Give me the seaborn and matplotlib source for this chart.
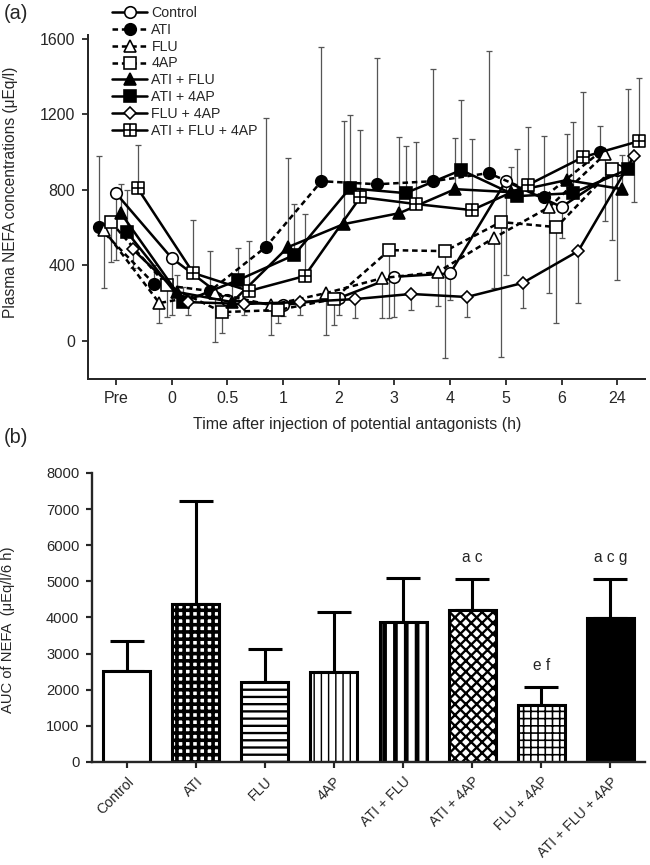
import numpy as np
import pandas as pd
import matplotlib
matplotlib.use('Agg')
import matplotlib.pyplot as plt
from matplotlib.path import Path
import seaborn as sns

# time points after injection (x categories of panel a)
times = ['Pre', '0', '0.5', '1', '2', '3', '4', '5', '6', '24']

groups = ['Control', 'ATI', 'FLU', '4AP', 'ATI + FLU', 'ATI + 4AP',
          'FLU + 4AP', 'ATI + FLU + 4AP']

# plasma NEFA means (uEq/l)
control = [783, 440, 217, 190, 227, 340, 358, 846, 710, 905]
ati = [603, 302, 265, 497, 846, 830, 846, 889, 762, 1000]
flu = [590, 201, 254, 190, 254, 333, 365, 545, 709, 989]
fourap = [630, 296, 153, 164, 222, 481, 476, 630, 603, 910]
ati_flu = [677, 260, 206, 497, 619, 677, 804, 788, 852, 804]
ati_4ap = [577, 206, 323, 455, 809, 783, 905, 767, 783, 910]
flu_4ap = [487, 206, 196, 206, 222, 249, 233, 307, 476, 979]
ati_flu_4ap = [809, 360, 265, 344, 762, 725, 693, 825, 974, 1058]

# SD (only one side is drawn in the figure)
control_sd = [355, 302, 80, 60, 89, 213, 141, 497, 165, 582]
ati_sd = [376, 100, 211, 683, 710, 667, 593, 645, 323, 138]
flu_sd = [310, 106, 259, 158, 222, 211, 180, 265, 455, 354]
fourap_sd = [212, 169, 111, 69, 137, 360, 566, 715, 508, 376]
ati_flu_sd = [154, 90, 100, 471, 545, 402, 270, 133, 243, 180]
ati_4ap_sd = [222, 80, 169, 270, 387, 249, 370, 249, 376, 423]
flu_4ap_sd = [101, 68, 60, 68, 100, 85, 106, 132, 275, 244]
ati_flu_4ap_sd = [228, 280, 264, 328, 354, 328, 376, 307, 343, 334]

# AUC of NEFA (uEq/l/6 h)
auc_mean = [2520, 4377, 2216, 2493, 3878, 4210, 1579, 3989]
auc_sd = [830, 2853, 914, 1662, 1219, 859, 499, 1080]
auc_letters = ['', '', '', '', '', 'a c', 'e f', 'a c g']

means = [control, ati, flu, fourap, ati_flu, ati_4ap, flu_4ap, ati_flu_4ap]
sds = [control_sd, ati_sd, flu_sd, fourap_sd, ati_flu_sd, ati_4ap_sd,
       flu_4ap_sd, ati_flu_4ap_sd]

# square with a cross inside
boxplus = Path([(-1, -1), (1, -1), (1, 1), (-1, 1), (-1, -1),
                (0, -1), (0, 1), (-1, 0), (1, 0)],
               [Path.MOVETO, Path.LINETO, Path.LINETO, Path.LINETO, Path.CLOSEPOLY,
                Path.MOVETO, Path.LINETO, Path.MOVETO, Path.LINETO])

dash = (0, (2.2, 1.5))
# marker, face, linestyle, dodge offset, error direction (+1 up, -1 down)
look = {
    'Control': ('o', 'white', '-', 0.0, -1),
    'ATI': ('o', 'black', dash, -0.31, 1),
    'FLU': ('^', 'white', dash, -0.22, -1),
    '4AP': ('s', 'white', dash, -0.09, -1),
    'ATI + FLU': ('^', 'black', '-', 0.09, 1),
    'ATI + 4AP': ('s', 'black', '-', 0.2, 1),
    'FLU + 4AP': ('D', 'white', '-', 0.3, -1),
    'ATI + FLU + 4AP': (boxplus, 'white', '-', 0.39, 1),
}

sns.set_style('ticks')
plt.rcParams['font.family'] = ['Liberation Sans', 'DejaVu Sans']
plt.rcParams['hatch.linewidth'] = 1.0

dpi = 130
fig = plt.figure(figsize=(650 / dpi, 865 / dpi), dpi=dpi)
ax1 = fig.add_axes([0.1354, 0.5621, 0.857, 0.3974])
ax2 = fig.add_axes([0.1415, 0.1191, 0.8508, 0.3341])

# ---- panel (a)
idx = np.arange(len(times))
for name, m, s in zip(groups, means, sds):
    mk, face, ls, off, d = look[name]
    m = np.array(m, float)
    s = np.array(s, float)
    z = np.zeros_like(s)
    yerr = [z, s] if d > 0 else [s, z]
    ax1.errorbar(idx + off, m, yerr=yerr, fmt='none', ecolor='#555555',
                 elinewidth=0.7, capsize=1.5, capthick=0.7, zorder=1)
    df = pd.DataFrame({'pos': idx + off, 'nefa': m})
    ms = 6.4 if mk != 'D' else 5.0
    sns.lineplot(data=df, x='pos', y='nefa', ax=ax1, color='black',
                 linewidth=1.4, linestyle=ls, marker=mk, markersize=ms,
                 markerfacecolor=face, markeredgecolor='black',
                 markeredgewidth=0.9, label=name, errorbar=None, sort=False,
                 zorder=3)

ax1.set_xlim(-0.5, 9.5)
ax1.set_ylim(-200, 1620)
ax1.set_xticks(idx)
ax1.set_xticklabels(times)
ax1.set_yticks([0, 400, 800, 1200, 1600])
ax1.tick_params(labelsize=8.9, width=1.0, length=3.5, direction='out')
ax1.set_xlabel('Time after injection of potential antagonists (h)', fontsize=8.9)
ax1.set_ylabel('Plasma NEFA concentrations (\u03bcEq/l)', fontsize=8.6)
ax1.xaxis.set_label_coords(0.483, -0.112)
ax1.yaxis.set_label_coords(-0.126, 0.543)
for sp in ['top', 'right']:
    ax1.spines[sp].set_visible(False)
for sp in ['left', 'bottom']:
    ax1.spines[sp].set_linewidth(1.1)

h, l = ax1.get_legend_handles_labels()
ax1.legend(h, l, loc='upper left', bbox_to_anchor=(112 / 650, 1 - 6 / 865),
           bbox_transform=fig.transFigure, frameon=False, fontsize=7.8,
           handlelength=2.5, handletextpad=0.3, labelspacing=0.2,
           borderpad=0, borderaxespad=0)

# ---- panel (b)
auc_df = pd.DataFrame({'group': groups, 'auc': auc_mean})
sns.barplot(data=auc_df, x='group', y='auc', ax=ax2, color='white',
            edgecolor='black', linewidth=1.7, width=0.68, errorbar=None,
            saturation=1, zorder=2)

# fill / hatch / hatch line width for each bar
bar_fill = [('white', '', 1.0), ('white', '+++', 2.0), ('white', '---', 1.3),
            ('white', '|||', 0.8), ('white', '||', 2.6), ('white', 'xxxx', 1.3),
            ('white', '+++', 0.9), ('black', '', 1.0)]
for p, (fc, ht, hw) in zip(ax2.patches, bar_fill):
    p.set_facecolor(fc)
    p.set_hatch(ht)
    if hasattr(p, 'set_hatch_linewidth'):
        p.set_hatch_linewidth(hw)

bx = np.arange(len(groups))
ax2.errorbar(bx, auc_mean, yerr=[np.zeros(len(auc_sd)), auc_sd], fmt='none',
             ecolor='black', elinewidth=1.7, capsize=9.5, capthick=1.7, zorder=1)
for i, t in enumerate(auc_letters):
    if t:
        ax2.text(bx[i], auc_mean[i] + auc_sd[i] + 580, t, ha='center',
                 va='center', fontsize=8.6)

ax2.set_xlim(-0.5, 7.5)
ax2.set_ylim(0, 8000)
ax2.set_yticks(np.arange(0, 8001, 1000))
ax2.set_xlabel('')
ax2.set_ylabel('AUC of NEFA  (\u03bcEq/l/6 h)', fontsize=8.2)
ax2.yaxis.set_label_coords(-0.139, 0.457)
ax2.tick_params(axis='y', labelsize=8.2, width=1.2, length=3.5)
ax2.tick_params(axis='x', labelsize=7.8, width=1.2, length=3.5)
for lab in ax2.get_xticklabels():
    lab.set_rotation(45)
    lab.set_ha('right')
    lab.set_rotation_mode('anchor')
for sp in ['top', 'right']:
    ax2.spines[sp].set_visible(False)
for sp in ['left', 'bottom']:
    ax2.spines[sp].set_linewidth(1.3)

fig.text(0.006, 0.995, '(a)', fontsize=11, va='top', ha='left')
fig.text(0.006, 0.505, '(b)', fontsize=11, va='top', ha='left')

fig.savefig('out.png', dpi=dpi)
